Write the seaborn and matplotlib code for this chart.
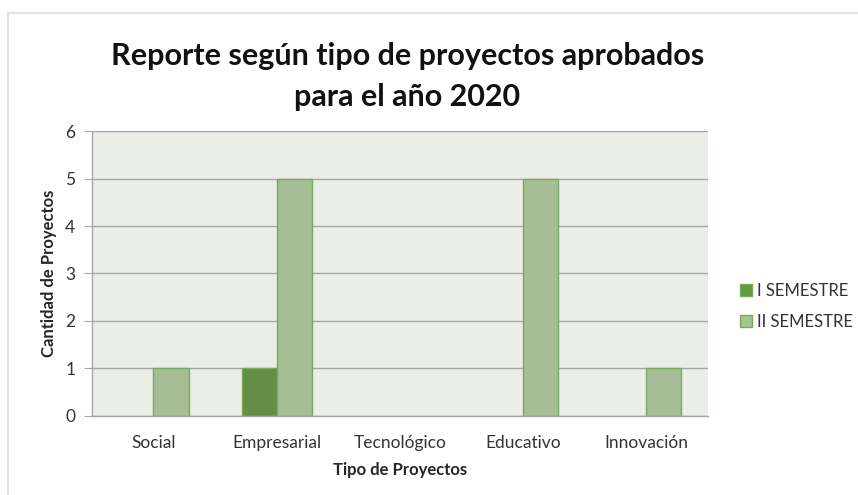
import numpy as np
import pandas as pd
import matplotlib.pyplot as plt
import seaborn as sns
from matplotlib.lines import Line2D

categorias = ["Social", "Empresarial", "Tecnológico", "Educativo", "Innovación"]
semestre_1 = [0, 1, 0, 0, 0]
semestre_2 = [1, 5, 0, 5, 1]
series = ["I SEMESTRE", "II SEMESTRE"]
colores = ["#629a3c", "#a3c58e"]

df = pd.DataFrame({
    "tipo": categorias * 2,
    "cantidad": semestre_1 + semestre_2,
    "semestre": [series[0]] * len(categorias) + [series[1]] * len(categorias),
})

sns.set_style("white")
plt.rcParams["font.family"] = ["Lato", "DejaVu Sans"]

fig = plt.figure(figsize=(8.58, 4.95), dpi=100)
ax = fig.add_axes([0.107, 0.160, 0.718, 0.575])

sns.barplot(
    data=df, x="tipo", y="cantidad", hue="semestre", palette=colores,
    width=0.57, edgecolor="#79a95a", linewidth=1, ax=ax, legend=False,
)
# barras en cero no se ven en el original
for p in ax.patches:
    if p.get_height() == 0:
        p.set_visible(False)

ax.set_facecolor("#eaeee6")
ax.set_ylim(0, 6)
ax.set_yticks(range(0, 7))
ax.grid(axis="y", color="#a6a6a6", linewidth=1)
ax.set_axisbelow(True)
for s in ["top", "right"]:
    ax.spines[s].set_visible(False)
for s in ["left", "bottom"]:
    ax.spines[s].set_color("#a6a6a6")
    ax.spines[s].set_linewidth(1)
ax.tick_params(axis="y", length=6, color="#a6a6a6", labelsize=12.5, labelcolor="#333333", pad=6, left=True)
ax.tick_params(axis="x", length=0, labelsize=12.5, labelcolor="#333333", pad=14)

ax.set_xlabel("Tipo de Proyectos", fontsize=12, fontweight="bold", labelpad=8)
ax.set_ylabel("Cantidad de Proyectos", fontsize=12, fontweight="bold", labelpad=6)

fig.text(0.475, 0.845, "Reporte según tipo de proyectos aprobados\npara el año 2020",
         ha="center", va="center", fontsize=22, fontweight="bold",
         linespacing=1.55, color="#111111")

handles = [Line2D([0], [0], marker="s", linestyle="none", markersize=8,
                  markerfacecolor=c, markeredgecolor="#79a95a") for c in colores]
fig.legend(handles, series, loc="center left", bbox_to_anchor=(0.845, 0.381),
           frameon=False, fontsize=12, handletextpad=-0.1, handlelength=1.5,
           labelspacing=0.9, labelcolor="#333333", borderpad=0)

# marco del gráfico
fig.add_artist(Line2D([8 / 858, 1], [1 - 13 / 495] * 2, transform=fig.transFigure,
                      color="#e3e3e3", linewidth=1.5))
fig.add_artist(Line2D([8 / 858] * 2, [0, 1 - 13 / 495], transform=fig.transFigure,
                      color="#e3e3e3", linewidth=1.5))

fig.savefig("out.png", dpi=100)
